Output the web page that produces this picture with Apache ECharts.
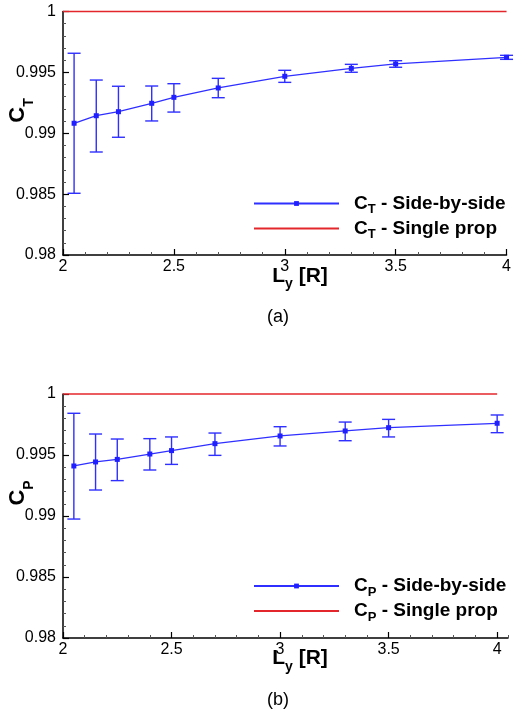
<!DOCTYPE html>
<html>
<head>
<meta charset="utf-8">
<script src="https://cdn.jsdelivr.net/npm/echarts@6/dist/echarts.min.js"></script>
<style>
  html, body { margin: 0; padding: 0; background: #fff; }
  #chart { width: 514px; height: 716px; }
</style>
</head>
<body>
<div id="chart"></div>
<script>
// Lateral spacing L_y [R]
const spacing = [2.05, 2.15, 2.25, 2.4, 2.5, 2.7, 3.0, 3.3, 3.5, 4.0];

// Thrust coefficient ratio, side-by-side configuration
const ctMean = [0.99082, 0.99144, 0.99177, 0.99246, 0.99295, 0.99372, 0.99468, 0.99533, 0.99569, 0.99624];
const ctLow  = [0.98507, 0.98846, 0.98967, 0.99101, 0.99174, 0.99292, 0.99418, 0.99501, 0.99542, 0.99607];
const ctHigh = [0.99657, 0.99437, 0.99386, 0.99388, 0.99407, 0.99451, 0.99517, 0.99566, 0.99596, 0.99640];

// Power coefficient ratio, side-by-side configuration
const cpMean = [0.99410, 0.99443, 0.99464, 0.99508, 0.99536, 0.99593, 0.99656, 0.99697, 0.99724, 0.99760];
const cpLow  = [0.98975, 0.99213, 0.99290, 0.99377, 0.99423, 0.99497, 0.99574, 0.99617, 0.99648, 0.99683];
const cpHigh = [0.99842, 0.99672, 0.99631, 0.99634, 0.99648, 0.99680, 0.99732, 0.99770, 0.99792, 0.99828];

// Single propeller reference level
const singleX = [2, 4];
const singleVal = [1, 1];

// Axis ranges and tick labels
const xTicks = [2, 2.5, 3, 3.5, 4];
const yMin = 0.98, yMax = 1, yStep = 0.005;

const FONT = "'Liberation Sans', Arial, Helvetica, sans-serif";
const BLUE = '#2f2fff';
const RED = '#e3262b';

const zip = (a, b) => a.map((v, i) => [v, b[i]]);
const zip3 = (a, b, c) => a.map((v, i) => [v, b[i], c[i]]);

function errorBarItem(params, api) {
  const x = api.value(0);
  const lo = api.coord([x, api.value(1)]);
  const hi = api.coord([x, api.value(2)]);
  const hw = 6.5;
  const style = { stroke: BLUE, lineWidth: 1.4, fill: null };
  return {
    type: 'group',
    children: [
      { type: 'line', shape: { x1: lo[0], y1: lo[1], x2: hi[0], y2: hi[1] }, style },
      { type: 'line', shape: { x1: lo[0] - hw, y1: lo[1], x2: lo[0] + hw, y2: lo[1] }, style },
      { type: 'line', shape: { x1: hi[0] - hw, y1: hi[1], x2: hi[0] + hw, y2: hi[1] }, style }
    ]
  };
}

const legendRich = {
  c: { fontSize: 19, fontWeight: 'bold', fontFamily: FONT, color: '#000', lineHeight: 23, verticalAlign: 'middle', padding: [0, 0, 0, 10] },
  s: { fontSize: 13, fontWeight: 'bold', fontFamily: FONT, color: '#000', lineHeight: 23, verticalAlign: 'middle', padding: [12, 0, 0, 0] },
  t: { fontSize: 19, fontWeight: 'bold', fontFamily: FONT, color: '#000', lineHeight: 23, verticalAlign: 'middle' }
};
function legendText(name) {
  const m = name.match(/^C_(\w)(.*)$/);
  return '{c|C}{s|' + m[1] + '}{t|' + m[2] + '}';
}

const labelStyle = { color: '#000', fontSize: 16, fontFamily: FONT };

function xAxes(grid, max) {
  return [
    { // axis line with 0.1 ticks
      gridIndex: grid, type: 'value', min: 2, max: max, interval: 0.1, position: 'bottom',
      axisLine: { show: true, lineStyle: { color: '#000', width: 1.5 } },
      axisTick: { show: true, inside: true, length: 3, lineStyle: { color: '#555', width: 1 } },
      axisLabel: { show: false }, splitLine: { show: false }
    },
    { // labelled 0.5 ticks
      gridIndex: grid, type: 'value', min: 2, max: max, interval: 0.5, position: 'bottom',
      axisLine: { show: false },
      axisTick: { show: true, inside: true, length: 6, customValues: xTicks, lineStyle: { color: '#000', width: 1.2 } },
      axisLabel: Object.assign({ margin: 4, customValues: xTicks,
        formatter: v => (xTicks.indexOf(+v.toFixed(2)) >= 0 ? String(+v.toFixed(2)) : '') }, labelStyle),
      splitLine: { show: false }
    }
  ];
}

function yAxis(grid) {
  return {
    gridIndex: grid, type: 'value', min: yMin, max: yMax, interval: yStep,
    axisLine: { show: true, lineStyle: { color: '#000', width: 1.5 } },
    axisTick: { show: true, inside: true, length: 6, lineStyle: { color: '#000', width: 1.2 } },
    minorTick: { show: true, splitNumber: 5, length: 3, lineStyle: { color: '#555', width: 1 } },
    axisLabel: Object.assign({ margin: 7, formatter: v => String(+v.toFixed(3)) }, labelStyle),
    splitLine: { show: false }, minorSplitLine: { show: false }
  };
}

function panelSeries(tag, xIdx, yIdx, mean, low, high) {
  return [
    {
      name: 'C_' + tag + ' - Single prop', type: 'line', xAxisIndex: xIdx, yAxisIndex: yIdx,
      data: zip(singleX, singleVal), symbol: 'none', clip: false,
      lineStyle: { color: RED, width: 1.5 }, itemStyle: { color: RED }, z: 3
    },
    {
      name: 'errbar-' + tag, type: 'custom', xAxisIndex: xIdx, yAxisIndex: yIdx,
      data: zip3(spacing, low, high), renderItem: errorBarItem,
      encode: { x: 0, y: [1, 2] }, clip: false, z: 4
    },
    {
      name: 'C_' + tag + ' - Side-by-side', type: 'line', xAxisIndex: xIdx, yAxisIndex: yIdx,
      data: zip(spacing, mean), symbol: 'rect', symbolSize: 5, clip: false,
      lineStyle: { color: BLUE, width: 1.3 }, itemStyle: { color: '#1f1fff' }, z: 5
    }
  ];
}

function legend(tag, top) {
  return {
    data: [
      { name: 'C_' + tag + ' - Side-by-side' },
      { name: 'C_' + tag + ' - Single prop', itemStyle: { opacity: 0 } }
    ],
    orient: 'vertical', left: 253, top: top, padding: 0,
    itemWidth: 85, itemHeight: 6, itemGap: 0,
    formatter: legendText,
    textStyle: { rich: legendRich },
    selectedMode: false
  };
}

const titleRich = {
  c: { fontSize: 22, fontWeight: 'bold', fontFamily: FONT, fill: '#000', verticalAlign: 'middle' },
  s: { fontSize: 14, fontWeight: 'bold', fontFamily: FONT, fill: '#000', verticalAlign: 'middle', padding: [24, 0, 0, 0] }
};
const xTitleRich = {
  c: { fontSize: 21, fontWeight: 'bold', fontFamily: FONT, fill: '#000', verticalAlign: 'middle' },
  s: { fontSize: 14, fontWeight: 'bold', fontFamily: FONT, fill: '#000', verticalAlign: 'middle', padding: [17, 0, 0, 0] }
};

function yTitle(sub, cy) {
  return { type: 'text', x: 17.5, y: cy, rotation: Math.PI / 2,
    style: { text: '{c|C}{s|' + sub + '}', rich: titleRich, align: 'center', verticalAlign: 'middle' } };
}
function xTitle(cy) {
  return { type: 'text', x: 300, y: cy,
    style: { text: '{c|L}{s|y}{c| [R]}', rich: xTitleRich, align: 'center', verticalAlign: 'middle' } };
}
function caption(txt, cy) {
  return { type: 'text', x: 278, y: cy,
    style: { text: txt, fontSize: 18, fontFamily: FONT, fill: '#000', align: 'center', verticalAlign: 'middle' } };
}

const chart = echarts.init(document.getElementById('chart'), null, { renderer: 'canvas' });
chart.setOption({
  animation: false,
  backgroundColor: '#fff',
  grid: [
    { left: 63, width: 445, top: 11.5, height: 243.5 },
    { left: 63, width: 445, top: 394, height: 244 }
  ],
  xAxis: [...xAxes(0, 4), ...xAxes(1, 4.05)],
  yAxis: [yAxis(0), yAxis(1)],
  legend: [legend('T', 191), legend('P', 573.5)],
  series: [
    ...panelSeries('T', 1, 0, ctMean, ctLow, ctHigh),
    ...panelSeries('P', 3, 1, cpMean, cpLow, cpHigh)
  ],
  graphic: [
    yTitle('T', 110.5),
    yTitle('P', 493),
    xTitle(275.8),
    xTitle(658.3),
    caption('(a)', 316.7),
    caption('(b)', 700)
  ]
});
</script>
</body>
</html>
